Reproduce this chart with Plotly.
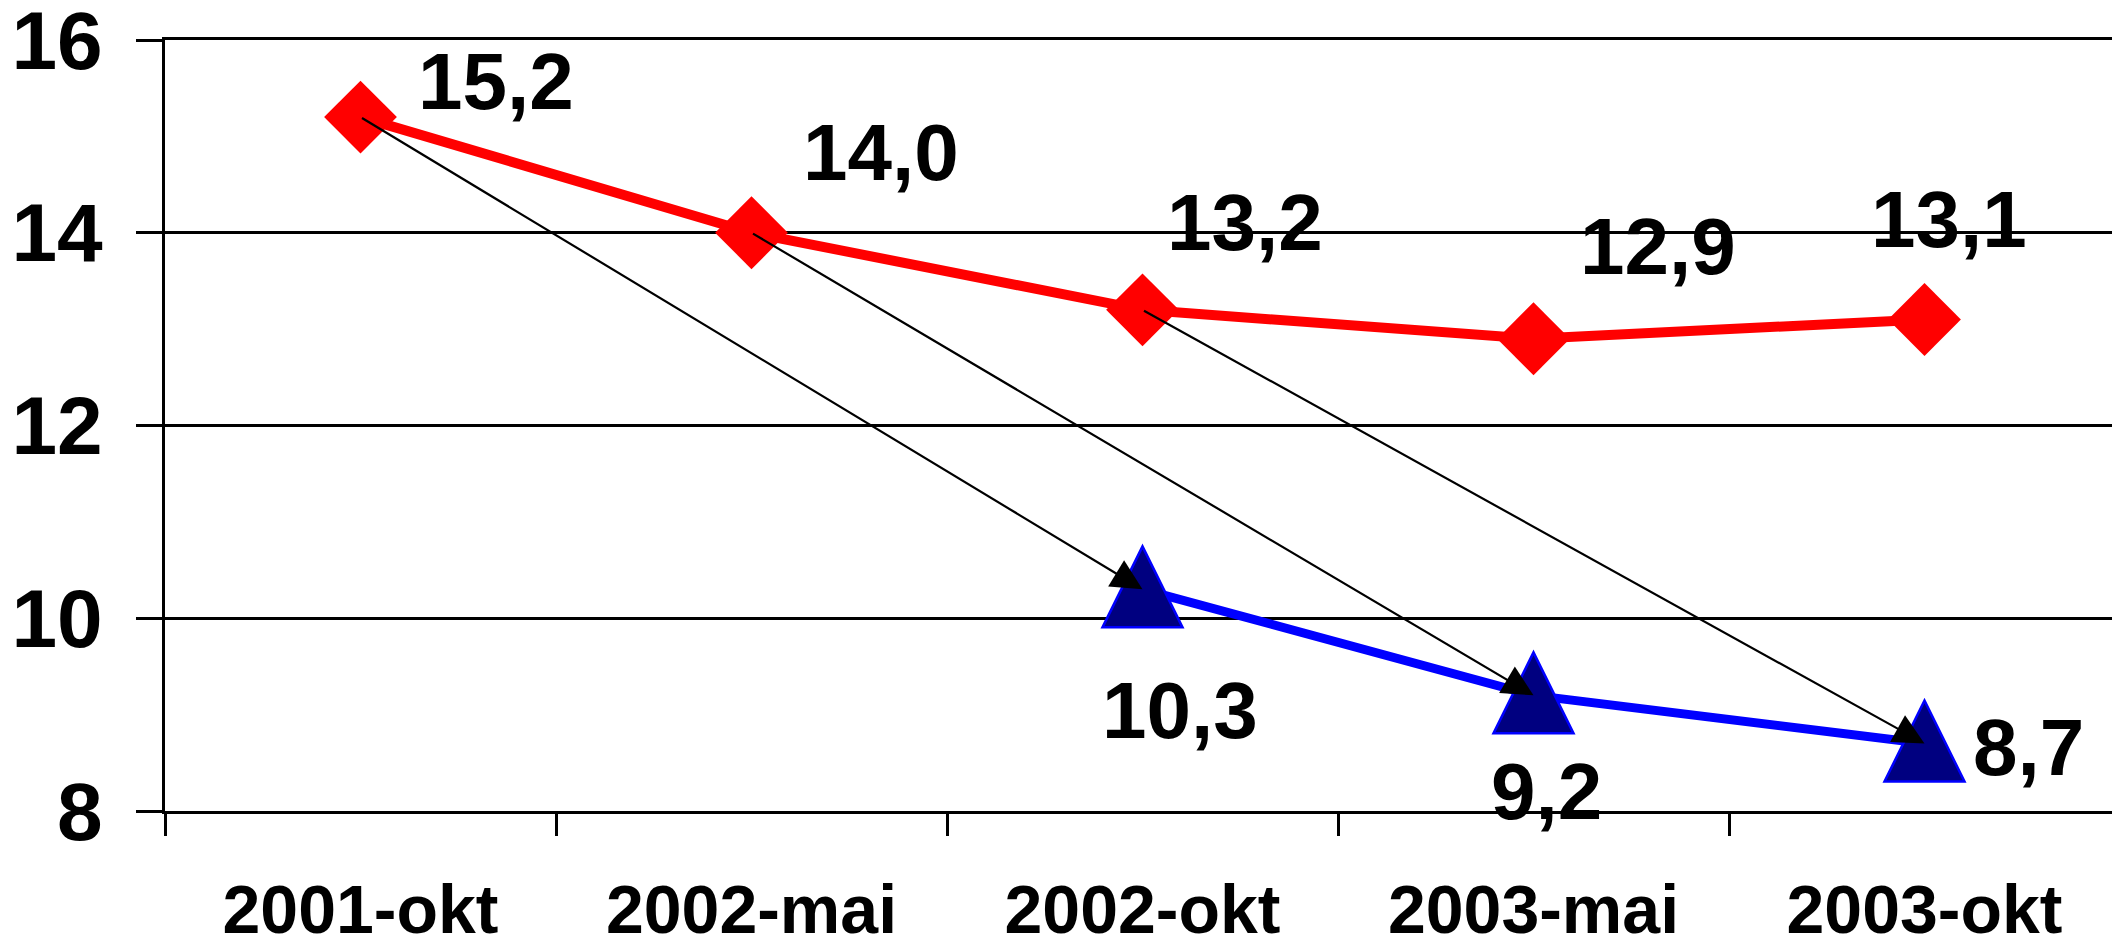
import plotly.graph_objects as go

categories = ["2001-okt", "2002-mai", "2002-okt", "2003-mai", "2003-okt"]
red_values = [15.2, 14.0, 13.2, 12.9, 13.1]
blue_categories = ["2002-okt", "2003-mai", "2003-okt"]
blue_values = [10.3, 9.2, 8.7]
red_labels = ["15,2", "14,0", "13,2", "12,9", "13,1"]
blue_labels = ["10,3", "9,2", "8,7"]
y_ticks = [8, 10, 12, 14, 16]

FONT = "Liberation Sans, Arial, sans-serif"

fig = go.Figure()
fig.add_trace(go.Scatter(
    x=categories, y=red_values, mode="lines+markers",
    line=dict(color="#FF0000", width=10),
    marker=dict(symbol="diamond", size=56, color="#FF0000"),
    showlegend=False, hoverinfo="skip"))
fig.add_trace(go.Scatter(
    x=blue_categories, y=blue_values, mode="lines",
    line=dict(color="#0000FF", width=9),
    showlegend=False, hoverinfo="skip"))

# tall triangle markers, anchored at each blue data point (pixel-sized shapes)
shapes = []
for c, v in zip(blue_categories, blue_values):
    shapes.append(dict(type="path", xref="x", yref="y",
                       xsizemode="pixel", ysizemode="pixel",
                       xanchor=c, yanchor=v,
                       path="M -40,-38 L 40,-38 L 0,43 Z",
                       fillcolor="#000080", line=dict(color="#0000FF", width=2.5),
                       layer="above"))

annotations = []
# arrows from red points to blue points two steps later
for i in range(3):
    annotations.append(dict(
        x=blue_categories[i], y=blue_values[i], xref="x", yref="y",
        ax=categories[i], ay=red_values[i], axref="x", ayref="y",
        showarrow=True, arrowhead=2, arrowsize=2.8, arrowwidth=2.2,
        arrowcolor="black", standoff=0, text=""))

red_offsets = [(135, 36), (129, 80), (102, 87), (124, 92), (24, 100)]
for c, v, t, (dx, dy) in zip(categories, red_values, red_labels, red_offsets):
    annotations.append(dict(x=c, y=v, xref="x", yref="y", text=t, showarrow=False,
                            xshift=dx, yshift=dy,
                            font=dict(family=FONT, size=80, color="black", weight="bold")))
blue_offsets = [(37, -121), (13, -96), (104, -4)]
for c, v, t, (dx, dy) in zip(blue_categories, blue_values, blue_labels, blue_offsets):
    annotations.append(dict(x=c, y=v, xref="x", yref="y", text=t, showarrow=False,
                            xshift=dx, yshift=dy,
                            font=dict(family=FONT, size=80, color="black", weight="bold")))

fig.update_layout(
    width=2112, height=938,
    margin=dict(l=157, r=0, t=32, b=135),
    paper_bgcolor="white", plot_bgcolor="white",
    annotations=annotations, shapes=shapes,
    xaxis=dict(type="category", categoryorder="array", categoryarray=categories,
               range=[-0.5, 4.5], tickson="boundaries", ticks="outside",
               ticklen=22, tickwidth=2.5, tickcolor="black",
               showgrid=False, showline=True, mirror=True,
               linecolor="black", linewidth=3,
               zeroline=False, ticklabelstandoff=37, automargin=False,
               ticklabeloverflow="allow",
               tickfont=dict(family=FONT, size=68, color="black", weight="bold")),
    yaxis=dict(range=[8, 16], tickvals=y_ticks, ticktext=[str(v) for v in y_ticks],
               ticks="outside", ticklen=26, tickwidth=3, tickcolor="black",
               showgrid=True, gridcolor="black", gridwidth=3,
               showline=True, linecolor="black", linewidth=3,
               zeroline=False, ticklabelstandoff=17, automargin=False,
               ticklabeloverflow="allow",
               tickfont=dict(family=FONT, size=82, color="black", weight="bold")),
)

fig.write_html("out.html")
